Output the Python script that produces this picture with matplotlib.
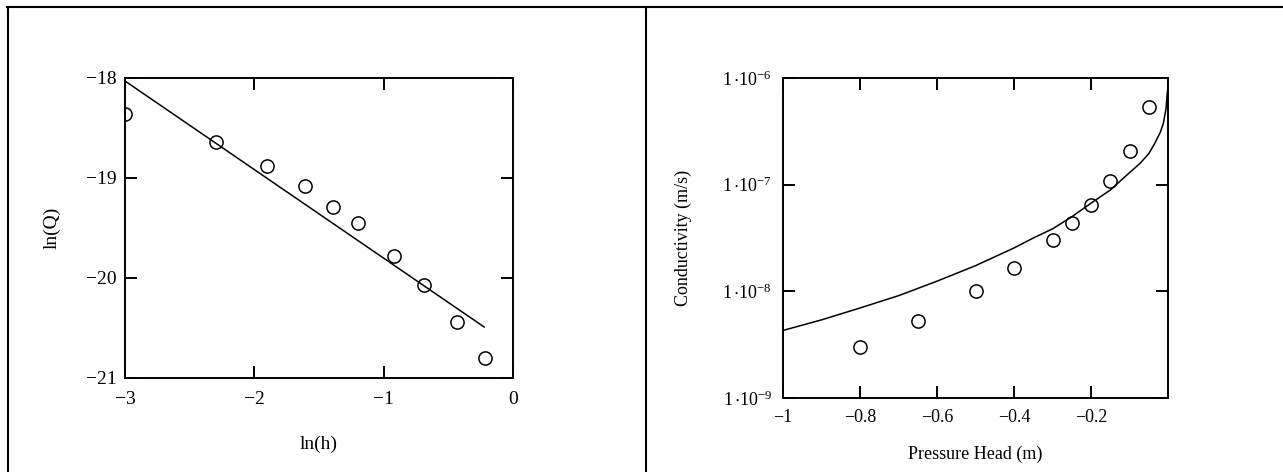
import numpy as np
import matplotlib
matplotlib.use("Agg")
import matplotlib.pyplot as plt
from matplotlib.lines import Line2D
from matplotlib.ticker import FixedLocator, FixedFormatter, NullLocator

plt.rcParams['font.family'] = ['Liberation Serif', 'DejaVu Serif']
plt.rcParams['mathtext.fontset'] = 'custom'
plt.rcParams['mathtext.rm'] = 'Liberation Serif'
plt.rcParams['mathtext.it'] = 'Liberation Serif:italic'

# ---- Left panel data: ln(Q) vs ln(h) ----
ln_h = [-3.0, -2.30, -1.90, -1.61, -1.39, -1.20, -0.92, -0.69, -0.43, -0.22]
ln_q = [-18.36, -18.635, -18.876, -19.077, -19.288, -19.455, -19.78, -20.067, -20.44, -20.80]
fit_x = [-3.0, -0.223]
fit_y = [-18.03, -20.49]
left_xticks = [-3, -2, -1, 0]
left_xlabels = ['\u22123', '\u22122', '\u22121', '0']
left_yticks = [-18, -19, -20, -21]
left_ylabels = ['\u221218', '\u221219', '\u221220', '\u221221']

# ---- Right panel data: conductivity vs pressure head ----
head_pts = [-0.8, -0.65, -0.5, -0.4, -0.3, -0.25, -0.2, -0.15, -0.1, -0.05]
cond_pts = [2.99e-9, 5.24e-9, 1.0e-8, 1.66e-8, 3.05e-8, 4.35e-8, 6.5e-8, 1.09e-7, 2.07e-7, 5.4e-7]
head_curve = [-1.0, -0.9, -0.8, -0.7, -0.6, -0.5, -0.4, -0.35, -0.3, -0.25, -0.2,
              -0.15, -0.116, -0.073, -0.05, -0.034, -0.02, -0.012, -0.005, -0.002, 0.0]
cond_curve = [4.3e-9, 5.4e-9, 6.98e-9, 9.1e-9, 1.245e-8, 1.74e-8, 2.55e-8, 3.16e-8, 3.85e-8,
              5.0e-8, 6.7e-8, 8.9e-8, 1.15e-7, 1.58e-7, 1.95e-7, 2.45e-7, 3.1e-7, 3.76e-7,
              5.2e-7, 7.2e-7, 8.2e-7]
right_xticks = [-1, -0.8, -0.6, -0.4, -0.2]
right_xlabels = ['\u22121', '\u22120.8', '\u22120.6', '\u22120.4', '\u22120.2']
right_yticks = [1e-9, 1e-8, 1e-7, 1e-6]
right_ylabels = [r'$\mathregular{1\,{\cdot}10^{-9}}$', r'$\mathregular{1\,{\cdot}10^{-8}}$',
                 r'$\mathregular{1\,{\cdot}10^{-7}}$', r'$\mathregular{1\,{\cdot}10^{-6}}$']

W, H = 1283, 472
fig = plt.figure(figsize=(W / 100, H / 100), dpi=100)
fig.patch.set_facecolor('white')

def fx(px):
    return px / W

def fy(py):
    return 1 - py / H

# frame lines
lw_frame = 1.5
fig.add_artist(Line2D([fx(7.5), fx(7.5)], [fy(7), 0], color='black', lw=lw_frame))
fig.add_artist(Line2D([fx(7), 1], [fy(7), fy(7)], color='black', lw=lw_frame))
fig.add_artist(Line2D([fx(646), fx(646)], [fy(7), 0], color='black', lw=lw_frame))

def style_axes(ax):
    for s in ax.spines.values():
        s.set_linewidth(1.4)
        s.set_color('black')
    ax.tick_params(which='major', direction='in', length=8.5, width=1.4,
                   top=True, right=True, bottom=True, left=True)
    ax.tick_params(which='minor', length=0)

# ---- Left axes ----
axL = fig.add_axes([fx(125), fy(378), fx(513) - fx(125), fy(78) - fy(378)])
axL.plot(fit_x, fit_y, color='black', lw=1.1)
axL.plot(ln_h, ln_q, linestyle='none', marker='o', markersize=9.5,
         markerfacecolor='none', markeredgecolor='black', markeredgewidth=1.1)
axL.set_xlim(-3, 0)
axL.set_ylim(-21, -18)
axL.xaxis.set_major_locator(FixedLocator(left_xticks))
axL.xaxis.set_major_formatter(FixedFormatter(left_xlabels))
axL.yaxis.set_major_locator(FixedLocator(left_yticks))
axL.yaxis.set_major_formatter(FixedFormatter(left_ylabels))
style_axes(axL)
axL.tick_params(axis='x', labelsize=14, pad=9)
axL.tick_params(axis='y', labelsize=14, pad=6)
axL.set_xlabel('ln(h)', fontsize=14, labelpad=20)
axL.set_ylabel('ln(Q)', fontsize=14, labelpad=18)

# ---- Right axes ----
axR = fig.add_axes([fx(783), fy(398), fx(1168) - fx(783), fy(78) - fy(398)])
axR.plot(head_curve, cond_curve, color='black', lw=1.1)
axR.plot(head_pts, cond_pts, linestyle='none', marker='o', markersize=9.5,
         markerfacecolor='none', markeredgecolor='black', markeredgewidth=1.1)
axR.set_yscale('log')
axR.set_xlim(-1, 0)
axR.set_ylim(1e-9, 1e-6)
axR.xaxis.set_major_locator(FixedLocator(right_xticks))
axR.xaxis.set_major_formatter(FixedFormatter(right_xlabels))
axR.yaxis.set_major_locator(FixedLocator(right_yticks))
axR.yaxis.set_major_formatter(FixedFormatter(right_ylabels))
axR.yaxis.set_minor_locator(NullLocator())
style_axes(axR)
axR.tick_params(axis='x', labelsize=13, pad=8)
axR.tick_params(axis='y', labelsize=13, pad=8)
axR.set_xlabel('Pressure Head (m)', fontsize=13, labelpad=14)
axR.set_ylabel('Conductivity (m/s)', fontsize=13, labelpad=22)

fig.savefig('out.png', dpi=100, facecolor='white')
